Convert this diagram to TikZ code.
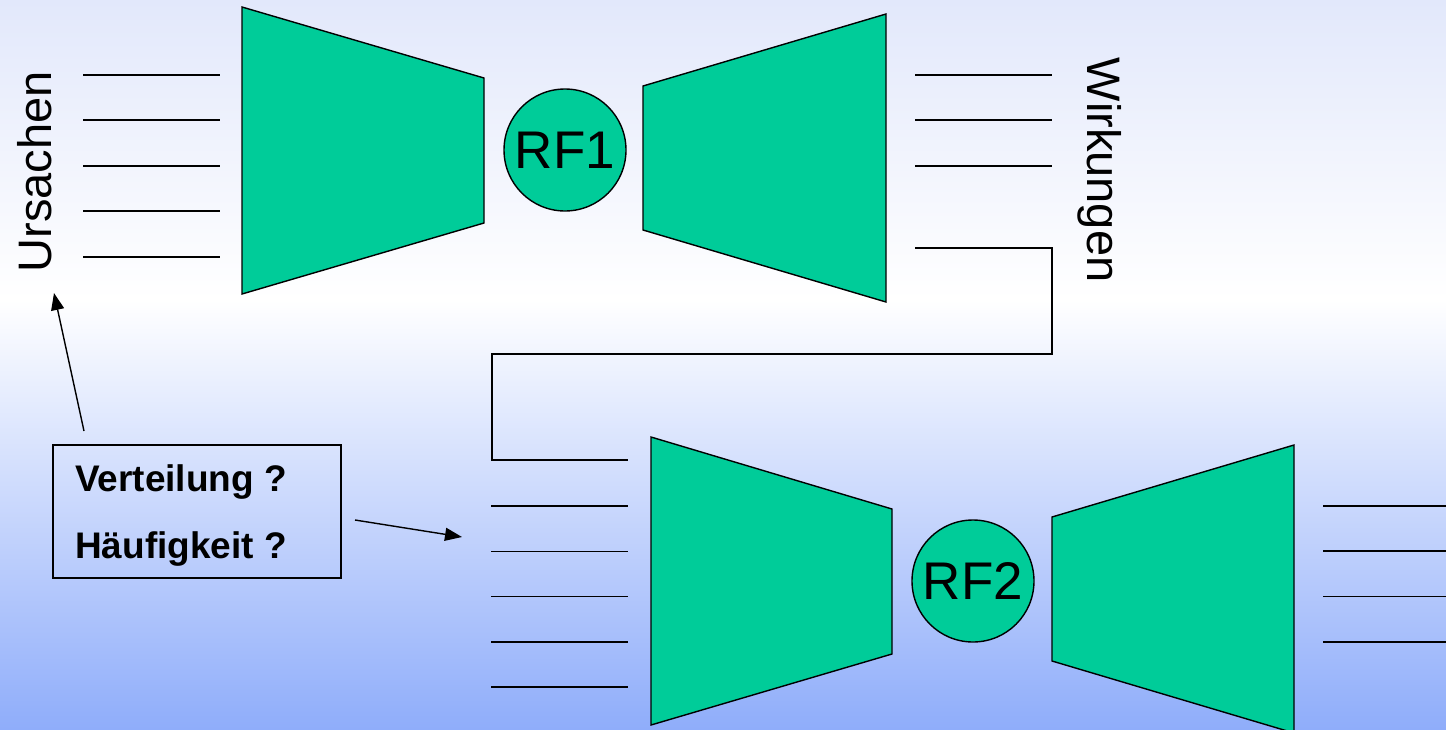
\documentclass[tikz,border=0pt]{standalone}
\usepackage{fontspec}
\setmainfont{Liberation Sans}
\usetikzlibrary{arrows.meta}
\definecolor{trapfill}{RGB}{0,204,153}
\definecolor{bgtop}{RGB}{226,232,251}
\definecolor{bgbot}{RGB}{143,173,250}
\begin{document}
\begin{tikzpicture}[x=1pt,y=-1pt,
  trapstyle/.style={fill=trapfill,draw=black,line width=1.4pt,line join=miter},
  wire/.style={draw=black,line width=1.4pt},
  arr/.style={draw=black,line width=1.4pt,-{Triangle[length=17pt,width=13pt]}},
  rfnode/.style={circle,fill=trapfill,draw=black,line width=1.4pt,minimum size=122pt,inner sep=0pt,font=\fontsize{53}{58}\selectfont},
  sidelabel/.style={font=\fontsize{47}{50}\selectfont,inner sep=0pt,anchor=base},
  boxtext/.style={font=\bfseries\fontsize{37}{40}\selectfont,inner sep=0pt,anchor=base west}]
\useasboundingbox (0,0) rectangle (1446,729);
\shade[top color=bgtop,bottom color=white] (0,0) rectangle (1446,300);
\shade[top color=white,bottom color=bgbot] (0,299.5) rectangle (1446,729);

% trapezoids
\draw[trapstyle] (242,7) -- (484,78) -- (484,223) -- (242,294) -- cycle;
\draw[trapstyle] (643,86) -- (886,14) -- (886,302) -- (643,230) -- cycle;
\draw[trapstyle] (651,437) -- (892,509) -- (892,654) -- (651,725) -- cycle;
\draw[trapstyle] (1052,517) -- (1294,445) -- (1294,733) -- (1052,661) -- cycle;

% circles
\node[rfnode] (rf1) at (565,150) {RF1};
\node[rfnode] (rf2) at (973,581) {RF2};

% side labels
\node[sidelabel,rotate=90] (urs) at (51.5,172) {Ursachen};
\node[sidelabel,rotate=-90] (wirk) at (1087,170) {Wirkungen};

% input lines RF1
\foreach \y in {75,120,166,211,257} \draw[wire] (83,\y) -- (220,\y);
% output lines RF1
\foreach \y in {75,120,166} \draw[wire] (915,\y) -- (1052,\y);
% connector RF1 -> RF2
\coordinate (c1) at (915,248);
\coordinate (c2) at (628,460);
\draw[wire] (c1) -- (1052,248) -- (1052,354) -- (492,354) -- (492,460) -- (c2);
% input lines RF2
\foreach \y in {506,551.5,596.5,642,687} \draw[wire] (491,\y) -- (628,\y);
% output lines RF2
\foreach \y in {506,551,596.5,642} \draw[wire] (1323,\y) -- (1446,\y);

% question box
\node[draw=black,line width=1.4pt,minimum width=288pt,minimum height=133pt,inner sep=0pt] (box) at (197,511.5) {};
\node[boxtext] (t1) at (75,491.5) {Verteilung ?};
\node[boxtext] (t2) at (75,558) {Häufigkeit ?};

% arrows
\coordinate (a1s) at (84,431);
\coordinate (a1e) at (54,293);
\draw[arr] (a1s) -- (a1e);
\coordinate (a2s) at (355,520);
\coordinate (a2e) at (462,537);
\draw[arr] (a2s) -- (a2e);
\end{tikzpicture}
\end{document}
